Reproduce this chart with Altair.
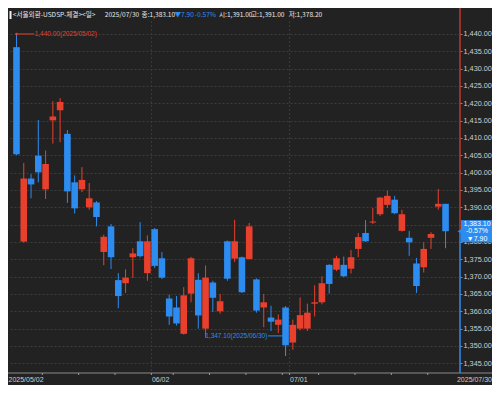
import altair as alt
import pandas as pd

# ---------------- data ----------------
opens = [1436.2, 1380.1, 1398.3, 1404.9, 1395.2, 1415.1, 1418.0, 1411.2, 1397.2, 1395.2,
         1390.0, 1391.4, 1377.1, 1384.5, 1369.0, 1368.1, 1375.6, 1380.2, 1371.0, 1383.7,
         1375.3, 1363.7, 1361.1, 1353.5, 1365.1, 1369.1, 1355.0, 1368.3, 1360.0, 1380.2,
         1375.2, 1375.6, 1375.1, 1369.2, 1361.1, 1358.2, 1356.1, 1361.1, 1351.0, 1355.0,
         1355.0, 1362.2, 1362.6, 1373.4, 1372.0, 1373.4, 1372.3, 1378.0, 1382.6, 1385.6,
         1388.0, 1390.7, 1392.2, 1383.2, 1381.2, 1373.8, 1372.7, 1381.2, 1390.2, 1391.0]
highs = [1440.0, 1402.8, 1399.6, 1415.2, 1406.4, 1420.6, 1421.5, 1412.3, 1399.2, 1401.6,
         1397.0, 1391.8, 1382.1, 1385.2, 1371.0, 1372.1, 1378.2, 1385.7, 1381.9, 1384.0,
         1377.1, 1364.8, 1364.4, 1367.0, 1375.7, 1371.0, 1373.2, 1368.8, 1365.0, 1380.4,
         1386.4, 1375.8, 1385.5, 1369.5, 1365.0, 1361.6, 1359.1, 1361.5, 1357.6, 1364.0,
         1362.2, 1367.5, 1370.1, 1373.6, 1376.0, 1375.8, 1377.7, 1382.6, 1386.3, 1389.8,
         1393.0, 1394.8, 1393.3, 1389.3, 1383.2, 1375.4, 1379.9, 1382.8, 1395.3, 1391.0]
lows = [1405.0, 1379.8, 1392.6, 1397.2, 1392.4, 1408.4, 1408.8, 1391.3, 1388.2, 1394.4,
        1389.3, 1384.5, 1373.3, 1372.2, 1360.9, 1365.3, 1369.6, 1375.5, 1368.8, 1372.5,
        1369.3, 1356.1, 1355.9, 1353.3, 1362.6, 1355.0, 1352.4, 1359.8, 1359.3, 1368.8,
        1374.2, 1365.3, 1374.9, 1359.6, 1355.4, 1354.3, 1353.7, 1347.1, 1348.9, 1354.5,
        1354.3, 1358.5, 1362.0, 1365.1, 1371.6, 1369.9, 1370.9, 1375.6, 1380.0, 1385.2,
        1387.5, 1389.8, 1388.0, 1383.0, 1376.0, 1365.3, 1371.2, 1378.0, 1389.3, 1378.2]
closes = [1405.3, 1398.3, 1396.6, 1400.1, 1402.5, 1416.2, 1420.4, 1394.6, 1389.7, 1397.9,
          1392.6, 1387.2, 1381.5, 1375.6, 1364.4, 1369.7, 1376.7, 1375.9, 1380.2, 1373.1,
          1369.7, 1358.5, 1356.5, 1364.6, 1375.3, 1358.8, 1369.7, 1363.9, 1362.9, 1369.4,
          1380.2, 1365.5, 1384.5, 1360.2, 1362.6, 1357.0, 1357.6, 1350.2, 1356.1, 1358.9,
          1359.6, 1362.6, 1368.1, 1367.9, 1375.3, 1370.1, 1375.6, 1381.4, 1380.2, 1385.9,
          1392.8, 1393.3, 1388.3, 1388.0, 1379.9, 1367.3, 1378.0, 1382.3, 1391.0, 1383.1]

month_start_idx = [19, 38]                       # 06/02, 07/01
week_start_idx = [4, 9, 14, 22, 27, 32, 37, 42, 47, 52, 57]
x_label_text = ["2025/05/02", "06/02", "07/01", "2025/07/30"]
y_tick_values = [1345, 1350, 1355, 1360, 1365, 1370, 1375, 1380, 1385, 1390,
                 1395, 1400, 1405, 1410, 1415, 1420, 1425, 1430, 1435, 1440]

last_price = [1383.10]
last_change = ["-0.57%"]
last_diff = ["\u25bc7.90"]
high_note = {"idx": [0], "price": [1440.00], "label": ["1,440.00(2025/05/02)"]}
low_note = {"idx": [37], "price": [1347.10], "label": ["1,347.10(2025/06/30)"]}

header_parts = ["<서울외환-USDSP-체결><일>", "2025/07/30", "종:1,383.10",
                "\u25bc7.90", "-0.57%", "시:1,391.00", "고:1,391.00", "저:1,378.20"]
header_is_blue = [False, False, False, True, True, False, False, False]

# ---------------- style / layout ----------------
RED = "#e8402c"
BLUE = "#2d8cf0"
BG = "#222222"
GRID = "#3c3c3c"
TXT = "#cfcfcf"
W_PLOT, H_PLOT = 452, 365
RIGHT, BOTTOM = 32, 12
TOTAL_W = W_PLOT + RIGHT
header_x = [4.8, 96.8, 133.6, 166.5, 186.8, 211, 243, 280.7]

xs = alt.Scale(domain=[-0.48, 60.3], nice=False, zero=False)
ys = alt.Scale(domain=[1342.2, 1447.5], nice=False, zero=False)

# the 1,385.00 label sits under the last-price box in the reference
yaxis = alt.Axis(orient="right", values=y_tick_values, format=",.2f", title=None,
                 labelExpr="datum.value == 1385 ? '' : datum.label",
                 labelFontSize=7.3, labelFont="Liberation Sans", labelColor=TXT,
                 tickColor="#8a8a8a", tickSize=2, labelPadding=1, domain=False,
                 grid=True, gridColor=GRID, gridDash=[2, 2], labelOverlap=False,
                 labelFlush=False)


def X(field):
    return alt.X(field, scale=xs, axis=None)


def Y(field):
    return alt.Y(field, scale=ys, axis=yaxis)


df = pd.DataFrame({"idx": list(range(len(opens))), "open": opens, "high": highs,
                   "low": lows, "close": closes})
color = alt.condition("datum.close >= datum.open", alt.value(RED), alt.value(BLUE))

wicks = alt.Chart(df).mark_rule(strokeWidth=1).encode(
    x=X("idx:Q"), y=Y("low:Q"), y2="high:Q", color=color)
bodies = alt.Chart(df).mark_bar(size=6.6).encode(
    x=X("idx:Q"), y=Y("open:Q"), y2="close:Q", color=color)

mdf = pd.DataFrame({"idx": month_start_idx})
vgrid = alt.Chart(mdf).transform_calculate(xp="datum.idx - 0.45").mark_rule(
    color=GRID, strokeDash=[2, 2], strokeWidth=1).encode(
    x=X("xp:Q"), y=alt.value(13), y2=alt.value(H_PLOT))

tick_df = pd.DataFrame({"idx": week_start_idx + month_start_idx})
xticks = alt.Chart(tick_df).transform_calculate(xp="datum.idx - 0.45").mark_rule(
    color="#9a9a9a", strokeWidth=1).encode(
    x=X("xp:Q"), y=alt.value(H_PLOT), y2=alt.value(H_PLOT + 2))

one = pd.DataFrame({"a": [0]})
xline = alt.Chart(one).mark_rule(color="#8a8a8a", strokeWidth=1).encode(
    x=alt.value(0), x2=alt.value(TOTAL_W), y=alt.value(H_PLOT))

lab_y = H_PLOT + 6.5
lab_first = alt.Chart(one).mark_text(align="left", baseline="middle", fontSize=7,
                                     font="Liberation Sans", color=TXT).encode(
    x=alt.value(0.5), y=alt.value(lab_y), text=alt.value(x_label_text[0]))
mlab_df = pd.DataFrame({"idx": month_start_idx, "label": x_label_text[1:3]})
lab_mid = alt.Chart(mlab_df).transform_calculate(xp="datum.idx - 0.45").mark_text(
    align="left", baseline="middle", fontSize=7, font="Liberation Sans", color=TXT, dx=0.5).encode(
    x=X("xp:Q"), y=alt.value(lab_y), text="label:N")
lab_last = alt.Chart(one).mark_text(align="right", baseline="middle", fontSize=7,
                                    font="Liberation Sans", color=TXT).encode(
    x=alt.value(TOTAL_W), y=alt.value(lab_y), text=alt.value(x_label_text[3]))

# price line on the right edge: red above last price, blue below
pdf = pd.DataFrame({"price": last_price, "chg": last_change, "diff": last_diff})
sep_red = alt.Chart(pdf).mark_rule(color="#c0392b", strokeWidth=1.5).encode(
    x=alt.value(W_PLOT), y=Y("price:Q"), y2=alt.value(0))
sep_blue = alt.Chart(pdf).mark_rule(color=BLUE, strokeWidth=1.5).encode(
    x=alt.value(W_PLOT), y=Y("price:Q"), y2=alt.value(H_PLOT))
box = alt.Chart(pdf).transform_calculate(t="datum.price + 3.2", b="datum.price - 3.2").mark_rect(
    color=BLUE).encode(
    x=alt.value(W_PLOT + 1), x2=alt.value(TOTAL_W), y=Y("t:Q"), y2="b:Q")
pointer = alt.Chart(pdf).mark_point(shape="triangle-left", filled=True, size=22,
                                    color=BLUE, opacity=1).encode(
    x=alt.value(W_PLOT - 0.5), y=Y("price:Q"))
box_txt = []
for field, dy in [("price", -7.3), ("chg", 0), ("diff", 7.3)]:
    enc_text = alt.Text("price:Q", format=",.2f") if field == "price" else alt.Text(f"{field}:N")
    box_txt.append(alt.Chart(pdf).mark_text(
        align="center", baseline="middle", fontSize=7, font="Liberation Sans",
        color="white", dy=dy).encode(
        x=alt.value(W_PLOT + 17), y=Y("price:Q"), text=enc_text))

# high / low annotations
hdf = pd.DataFrame(high_note)
hi_line = alt.Chart(hdf).transform_calculate(x2="datum.idx + 2.45").mark_rule(
    color=RED, strokeWidth=1).encode(x=X("idx:Q"), x2="x2:Q", y=Y("price:Q"))
hi_dot = alt.Chart(hdf).mark_point(filled=True, size=6, color=RED, opacity=1).encode(
    x=X("idx:Q"), y=Y("price:Q"))
hi_txt = alt.Chart(hdf).transform_calculate(xt="datum.idx + 2.5").mark_text(
    align="left", baseline="middle", fontSize=6.5, font="Liberation Sans", color=RED).encode(
    x=X("xt:Q"), y=Y("price:Q"), text="label:N")

ldf = pd.DataFrame(low_note)
lo_line = alt.Chart(ldf).transform_calculate(x2="datum.idx - 2.4", ya="datum.price + 5.8").mark_rule(
    color=BLUE, strokeWidth=1).encode(x=X("idx:Q"), x2="x2:Q", y=Y("ya:Q"))
lo_drop = alt.Chart(ldf).transform_calculate(ya="datum.price + 5.8").mark_rule(
    color=BLUE, strokeWidth=1).encode(x=X("idx:Q"), y=Y("ya:Q"), y2="price:Q")
lo_txt = alt.Chart(ldf).transform_calculate(xt="datum.idx - 2.5", ya="datum.price + 5.8").mark_text(
    align="right", baseline="middle", fontSize=6.5, font="Liberation Sans", color=BLUE).encode(
    x=X("xt:Q"), y=Y("ya:Q"), text="label:N")

# header
hbar = alt.Chart(one).mark_rule(color="#f0f0f0", strokeWidth=2).encode(
    x=alt.value(2.5), y=alt.value(3), y2=alt.value(11))
header = []
for txt, blue, hx in zip(header_parts, header_is_blue, header_x):
    header.append(alt.Chart(one).mark_text(
        align="left", baseline="middle", fontSize=6.6, font="Noto Sans CJK KR",
        color=BLUE if blue else "#e8e8e8").encode(
        x=alt.value(hx), y=alt.value(7), text=alt.value(txt)))

chart = alt.layer(
    wicks, vgrid, bodies, xline, xticks, lab_first, lab_mid, lab_last,
    sep_red, sep_blue, box, pointer, *box_txt,
    hi_line, hi_dot, hi_txt, lo_line, lo_drop, lo_txt, hbar, *header,
).properties(
    width=W_PLOT, height=H_PLOT,
    autosize=alt.AutoSizeParams(type="none"),
    padding={"left": 0, "top": 0, "right": RIGHT, "bottom": BOTTOM},
    background=BG,
).configure_view(stroke=None)

chart.save("out.html", embed_options={"renderer": "svg", "actions": False})
